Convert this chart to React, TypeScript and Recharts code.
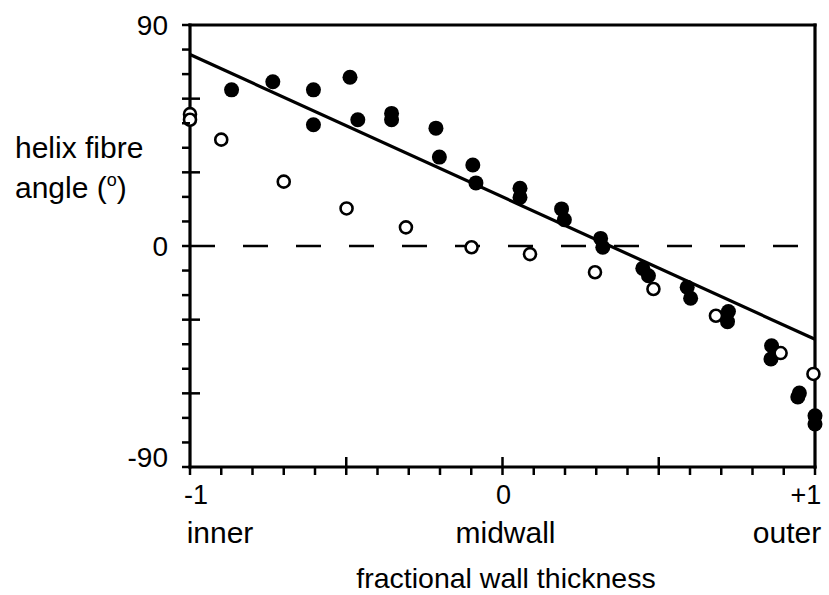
import { ScatterChart, Scatter, XAxis, YAxis, ReferenceLine } from 'recharts';

// filled circles: position across the wall (-1 inner .. +1 outer), helix angle in degrees
const filledPos = [-0.867, -0.735, -0.605, -0.605, -0.488, -0.463, -0.355, -0.355, -0.213, -0.202, -0.095, -0.085, 0.056, 0.056, 0.189, 0.198, 0.314, 0.321, 0.449, 0.467, 0.591, 0.602, 0.723, 0.72, 0.861, 0.859, 0.95, 0.945, 1.0, 1.0];
const filledAngle = [63.6, 66.9, 63.6, 49.4, 68.7, 51.4, 54.0, 51.4, 48.0, 36.2, 33.0, 25.7, 23.5, 19.8, 15.1, 10.7, 3.1, -0.5, -9.1, -12.1, -16.8, -21.3, -26.7, -30.8, -40.6, -46.0, -59.9, -61.5, -69.1, -72.5];

// open circles
const openPos = [-1.0, -1.0, -0.9, -0.7, -0.499, -0.309, -0.099, 0.088, 0.296, 0.483, 0.683, 0.89, 0.995];
const openAngle = [53.7, 51.4, 43.3, 26.2, 15.3, 7.6, -0.5, -3.3, -10.7, -17.5, -28.4, -43.6, -52.1];

// regression line end points
const fitPos = [-1, 1];
const fitAngle = [78, -38];

const xTicks = [-1, -0.9, -0.8, -0.7, -0.6, -0.5, -0.4, -0.3, -0.2, -0.1, 0, 0.1, 0.2, 0.3, 0.4, 0.5, 0.6, 0.7, 0.8, 0.9, 1];
const xMajor = [-0.5, 0, 0.5];
const xLabelValues = [-1, 0, 1];
const xLabelTexts = ['-1', '0', '+1'];
const xWordTexts = ['inner', 'midwall', 'outer'];

const yTicks = [-90, -80, -70, -60, -50, -40, -30, -20, -10, 0, 10, 20, 30, 40, 50, 60, 70, 80, 90];
const yMajor = [-60, -30, 30, 60];
const yLabelValues = [90, 0, -90];
const yLabelTexts = ['90', '0', '-90'];

const filled = filledPos.map((x, i) => ({ x, y: filledAngle[i] }));
const open = openPos.map((x, i) => ({ x, y: openAngle[i] }));

const FONT = '"Liberation Sans", Arial, sans-serif';
const near = (a: number, b: number) => Math.abs(a - b) < 1e-6;
const isIn = (v: number, list: number[]) => list.some((m) => near(v, m));

const BottomTick = (props: any) => {
  const { x, y, payload } = props;
  const v = payload.value;
  const idx = xLabelValues.findIndex((m) => near(m, v));
  return (
    <g>
      <line x1={x} x2={x} y1={isIn(v, xMajor) ? y - 10 : y} y2={y + 8} stroke="#000" strokeWidth={2.5} />
      {idx >= 0 && (
        <text x={x + (idx === 0 ? 6 : idx === 2 ? -9 : 1)} y={y + 37} textAnchor="middle" fontSize={27} fontFamily={FONT} fill="#000">
          {xLabelTexts[idx]}
        </text>
      )}
      {idx >= 0 && (
        <text x={x + (idx === 0 ? 30 : idx === 2 ? -28 : 3)} y={y + 76} textAnchor="middle" fontSize={30} fontFamily={FONT} fill="#000">
          {xWordTexts[idx]}
        </text>
      )}
    </g>
  );
};

const TopTick = (props: any) => {
  const { x, y, payload } = props;
  const v = payload.value;
  return <line x1={x} x2={x} y1={y - 8} y2={isIn(v, xMajor) ? y + 10 : y} stroke="#000" strokeWidth={2.5} />;
};

const LeftTick = (props: any) => {
  const { x, y, payload } = props;
  const v = payload.value;
  const idx = yLabelValues.findIndex((m) => near(m, v));
  return (
    <g>
      <line x1={x - 8} x2={isIn(v, yMajor) ? x + 10 : x} y1={y} y2={y} stroke="#000" strokeWidth={2.5} />
      {idx >= 0 && (
        <text x={x - 22} y={v === -90 ? y : y + 10} textAnchor="end" fontSize={28} fontFamily={FONT} fill="#000">
          {yLabelTexts[idx]}
        </text>
      )}
    </g>
  );
};

const RightTick = (props: any) => {
  const { x, y, payload } = props;
  const v = payload.value;
  return <line x1={isIn(v, yMajor) ? x - 10 : x} x2={x + 8} y1={y} y2={y} stroke="#000" strokeWidth={2.5} />;
};

const FilledDot = (props: any) => <circle cx={props.cx} cy={props.cy} r={7.5} fill="#000" />;
const OpenDot = (props: any) => <circle cx={props.cx} cy={props.cy} r={6} fill="#fff" stroke="#000" strokeWidth={2.6} />;

const axisLine = { stroke: '#000', strokeWidth: 3.2, strokeLinecap: 'square' as const };

export default function App() {
  return (
    <div style={{ position: 'absolute', left: 0, top: 0, background: '#fff' }}>
      <ScatterChart width={829} height={595} margin={{ top: 24, right: 13, bottom: 127, left: 189 }}>
        <XAxis xAxisId="b" type="number" dataKey="x" domain={[-1, 1]} ticks={xTicks} interval={0} orientation="bottom" height={1}
          tickSize={0} tickMargin={0} tickLine={false} axisLine={axisLine} tick={<BottomTick />} />
        <XAxis xAxisId="t" type="number" dataKey="x" domain={[-1, 1]} ticks={xTicks} interval={0} orientation="top" height={1}
          tickSize={0} tickMargin={0} tickLine={false} axisLine={axisLine} tick={<TopTick />} />
        <YAxis yAxisId="l" type="number" dataKey="y" domain={[-90, 90]} ticks={yTicks} interval={0} orientation="left" width={1}
          tickSize={0} tickMargin={0} tickLine={false} axisLine={axisLine} tick={<LeftTick />} />
        <YAxis yAxisId="r" type="number" dataKey="y" domain={[-90, 90]} ticks={yTicks} interval={0} orientation="right" width={1}
          tickSize={0} tickMargin={0} tickLine={false} axisLine={axisLine} tick={<RightTick />} />
        <ReferenceLine xAxisId="b" yAxisId="l" y={0} stroke="#000" strokeWidth={2.6} strokeDasharray="25 28" />
        <ReferenceLine xAxisId="b" yAxisId="l" stroke="#000" strokeWidth={3.2}
          segment={[{ x: fitPos[0], y: fitAngle[0] }, { x: fitPos[1], y: fitAngle[1] }]} />
        <Scatter xAxisId="b" yAxisId="l" data={filled} shape={<FilledDot />} isAnimationActive={false} />
        <Scatter xAxisId="b" yAxisId="l" data={open} shape={<OpenDot />} isAnimationActive={false} />
        <text x={15} y={158} fontSize={30} fontFamily={FONT} fill="#000">helix fibre</text>
        <text x={15} y={198} fontSize={30} fontFamily={FONT} fill="#000">
          angle (<tspan fontSize={18} dy={-12}>o</tspan><tspan dy={12}>)</tspan>
        </text>
        <text x={506} y={588} textAnchor="middle" fontSize={28.5} fontFamily={FONT} fill="#000">fractional wall thickness</text>
      </ScatterChart>
    </div>
  );
}
